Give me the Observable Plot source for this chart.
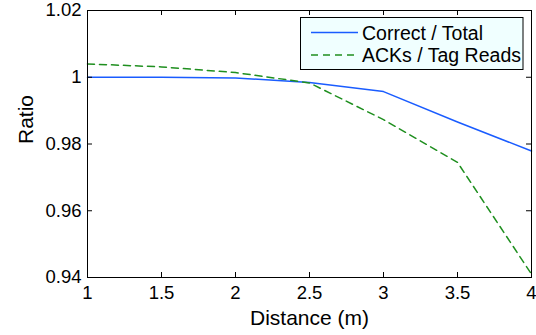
<!DOCTYPE html>
<html>
<head>
<meta charset="utf-8">
<script src="https://cdn.jsdelivr.net/npm/d3@7"></script>
<script src="https://cdn.jsdelivr.net/npm/@observablehq/plot@0.6"></script>
<style>
  html, body { margin: 0; padding: 0; background: white; }
  svg { display: block; }
</style>
</head>
<body>
<div id="chart"></div>
<script>
const distance = [1, 1.5, 2, 2.5, 3, 3.5, 4];
const correctTotal = [1.0000, 1.0000, 0.9998, 0.9984, 0.9957, 0.9866, 0.9779];
const ackTagReads = [1.0040, 1.0031, 1.0014, 0.9983, 0.9873, 0.9745, 0.9410];
const seriesNames = ["Correct / Total", "ACKs / Tag Reads"];
const seriesColors = ["#1a5cff", "#1f8f1f"];
const seriesDash = [null, "7,5"];
const xTicks = [1, 1.5, 2, 2.5, 3, 3.5, 4];
const yTicks = [0.94, 0.96, 0.98, 1, 1.02];
const xLabel = "Distance (m)";
const yLabel = "Ratio";

const W = 536, H = 335;
const mL = 87, mR = 5, mT = 10, mB = 58;
const plotW = W - mL - mR, plotH = H - mT - mB;
const tickLen = 5;
const font = "'Liberation Sans', Arial, Helvetica, sans-serif";

const rows = [];
distance.forEach((d, i) => {
  rows.push({distance: d, value: correctTotal[i], series: seriesNames[0]});
  rows.push({distance: d, value: ackTagReads[i], series: seriesNames[1]});
});

const fmt = d => String(+d.toFixed(2));

const chart = Plot.plot({
  width: W,
  height: H,
  marginLeft: mL,
  marginRight: mR,
  marginTop: mT,
  marginBottom: mB,
  style: {fontFamily: font, fontSize: "18.5px", background: "white", color: "black"},
  x: {domain: [1, 4]},
  y: {domain: [0.94, 1.02]},
  marks: [
    Plot.line(rows.filter(r => r.series === seriesNames[0]), {
      x: "distance", y: "value", stroke: seriesColors[0], strokeWidth: 1.5
    }),
    Plot.line(rows.filter(r => r.series === seriesNames[1]), {
      x: "distance", y: "value", stroke: seriesColors[1], strokeWidth: 1.5, strokeDasharray: seriesDash[1]
    }),
    Plot.frame({stroke: "black", strokeWidth: 1}),
    Plot.tickX(xTicks, {x: d => d, insetTop: plotH - tickLen, stroke: "black"}),
    Plot.tickX(xTicks, {x: d => d, insetBottom: plotH - tickLen, stroke: "black"}),
    Plot.tickY(yTicks, {y: d => d, insetRight: plotW - tickLen, stroke: "black"}),
    Plot.tickY(yTicks, {y: d => d, insetLeft: plotW - tickLen, stroke: "black"}),
    Plot.axisX({ticks: xTicks, tickSize: 0, tickPadding: 8, label: null, tickFormat: fmt}),
    Plot.axisY({ticks: yTicks, tickSize: 0, tickPadding: 6, label: null, tickFormat: fmt}),
    Plot.text([xLabel], {frameAnchor: "bottom", dy: 47, fontSize: 21, text: d => d}),
    Plot.text([yLabel], {frameAnchor: "left", dx: -61, rotate: -90, fontSize: 21, text: d => d})
  ]
});

// legend (inside top-right of the axes box)
const svg = d3.select(chart);
const lg = svg.append("g")
  .attr("font-family", font)
  .attr("font-size", "19.5px")
  .attr("text-anchor", "start");
lg.append("rect")
  .attr("x", 300.5).attr("y", 17.5).attr("width", 222.5).attr("height", 52)
  .attr("fill", "#f0ffff").attr("stroke", "black").attr("stroke-width", 1);
seriesNames.forEach((name, i) => {
  const yy = 32.5 + i * 22.5;
  lg.append("line")
    .attr("x1", 311).attr("x2", 358).attr("y1", yy).attr("y2", yy)
    .attr("stroke", seriesColors[i]).attr("stroke-width", 1.5)
    .attr("stroke-dasharray", seriesDash[i]);
  lg.append("text")
    .attr("x", 362).attr("y", yy + 7)
    .attr("fill", "black")
    .attr("text-anchor", "start")
    .text(name);
});

document.getElementById("chart").appendChild(chart);
</script>
</body>
</html>
